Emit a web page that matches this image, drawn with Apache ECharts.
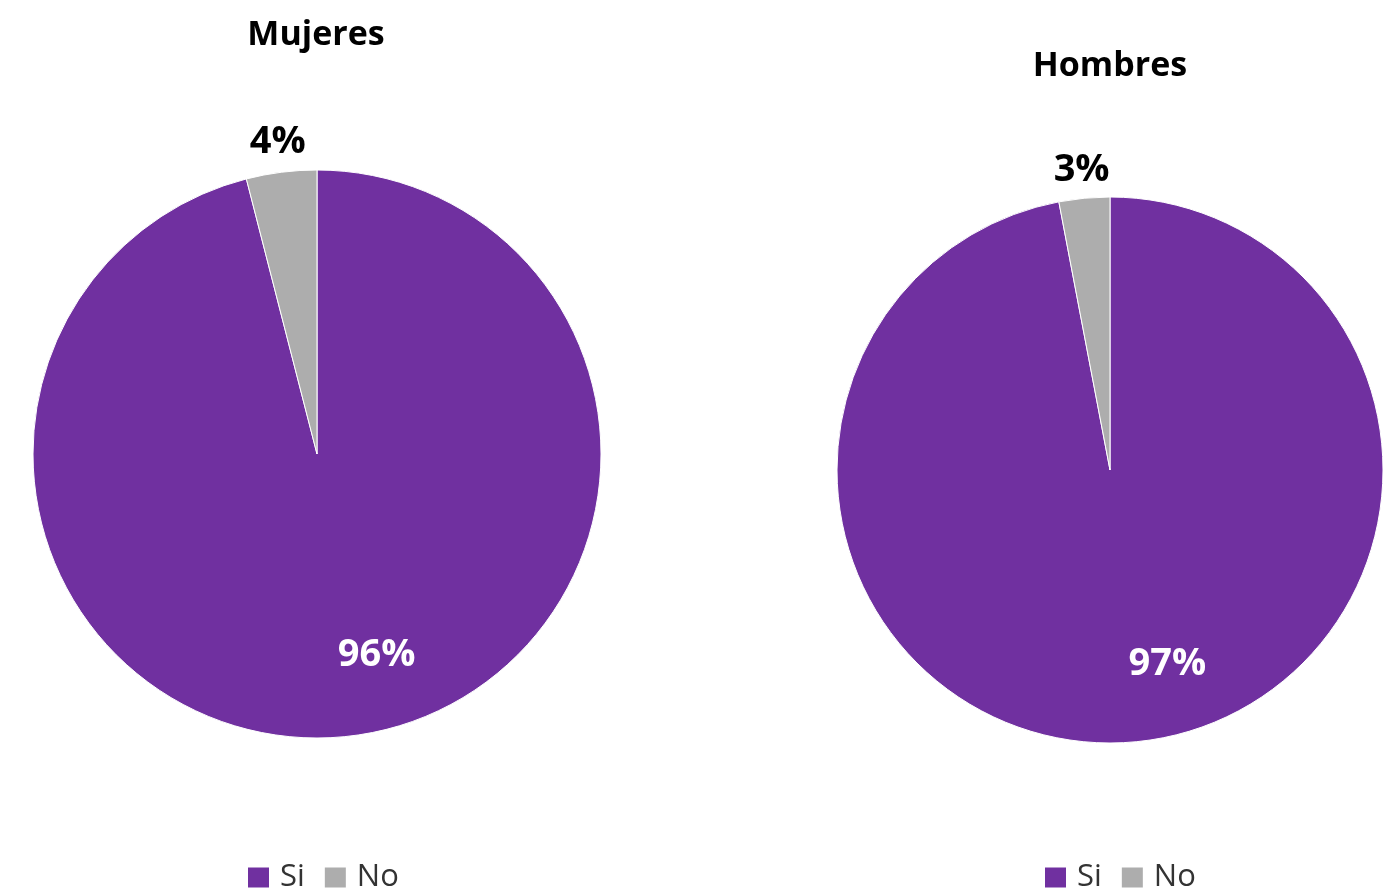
<!DOCTYPE html>
<html>
<head>
<meta charset="utf-8">
<script src="https://cdn.jsdelivr.net/npm/echarts@6/dist/echarts.min.js"></script>
<style>
html,body{margin:0;padding:0;background:#fff;}
#chart{width:1383px;height:895px;}
</style>
</head>
<body>
<div id="chart"></div>
<script>
let categories = ['Si', 'No'];
let mujeres = [96, 4];
let hombres = [97, 3];
let titles = ['Mujeres', 'Hombres'];
let colorList = ['#7030A0', '#ADADAD'];

let font = '"Open Sans", "Liberation Sans", sans-serif';

// pie geometry: center + radius
let pies = [
	{center: [317, 454], r: 284},
	{center: [1110, 470], r: 273}
];

// where the label sits: angle (deg, clockwise from top) and fraction of radius
function labelPos(pie, values, idx) {
	let total = values.reduce((a, b) => a + b, 0);
	let ang, k;
	if (idx == 0) {
		ang = 163.5; k = 0.74;  // Excel "best fit" inside
	} else {
		let before = values.slice(0, idx).reduce((a, b) => a + b, 0);
		ang = (before + values[idx] / 2) / total * 360;
		k = 1.105;
	}
	let rad = ang * Math.PI / 180;
	return {
		x: pie.center[0] + Math.sin(rad) * pie.r * k,
		y: pie.center[1] - Math.cos(rad) * pie.r * k
	};
}

function makeSeries(i, values) {
	let pie = pies[i];
	return {
		type: 'pie',
		name: titles[i],
		center: pie.center,
		radius: pie.r,
		startAngle: 90,
		clockwise: true,
		animation: false,
		silent: true,
		itemStyle: {borderColor: '#ffffff', borderWidth: 1},
		labelLine: {show: false},
		label: {
			show: true,
			position: 'inside',
			formatter: '{c}%',
			fontFamily: font,
			fontWeight: 'bold',
			fontSize: 38
		},
		labelLayout: function(p) {
			let pos = labelPos(pie, values, p.dataIndex);
			return {x: pos.x, y: pos.y, align: 'center', verticalAlign: 'middle'};
		},
		data: categories.map((c, j) => ({
			name: c,
			value: values[j],
			itemStyle: {color: colorList[j]},
			label: {color: j == 0 ? '#ffffff' : '#000000'}
		}))
	};
}

function makeLegend(x) {
	return {
		data: categories, left: x - 2, top: 862, padding: 0,
		icon: 'rect', itemWidth: 23, itemHeight: 22, itemGap: 18,
		textStyle: {fontFamily: font, fontSize: 31, color: '#333', padding: [0, 0, 0, 5]}
	};
}

let myChart = echarts.init(document.getElementById('chart'));
let option = {
	backgroundColor: '#ffffff',
	title: [
		{text: titles[0], left: 311, top: 13, textAlign: 'center',
			textStyle: {fontFamily: font, fontWeight: 'bold', fontSize: 34, color: '#000'}},
		{text: titles[1], left: 1105, top: 44, textAlign: 'center',
			textStyle: {fontFamily: font, fontWeight: 'bold', fontSize: 34, color: '#000'}}
	],
	legend: [makeLegend(248), makeLegend(1045)],
	series: [makeSeries(0, mujeres), makeSeries(1, hombres)]
};
myChart.setOption(option);
</script>
</body>
</html>
